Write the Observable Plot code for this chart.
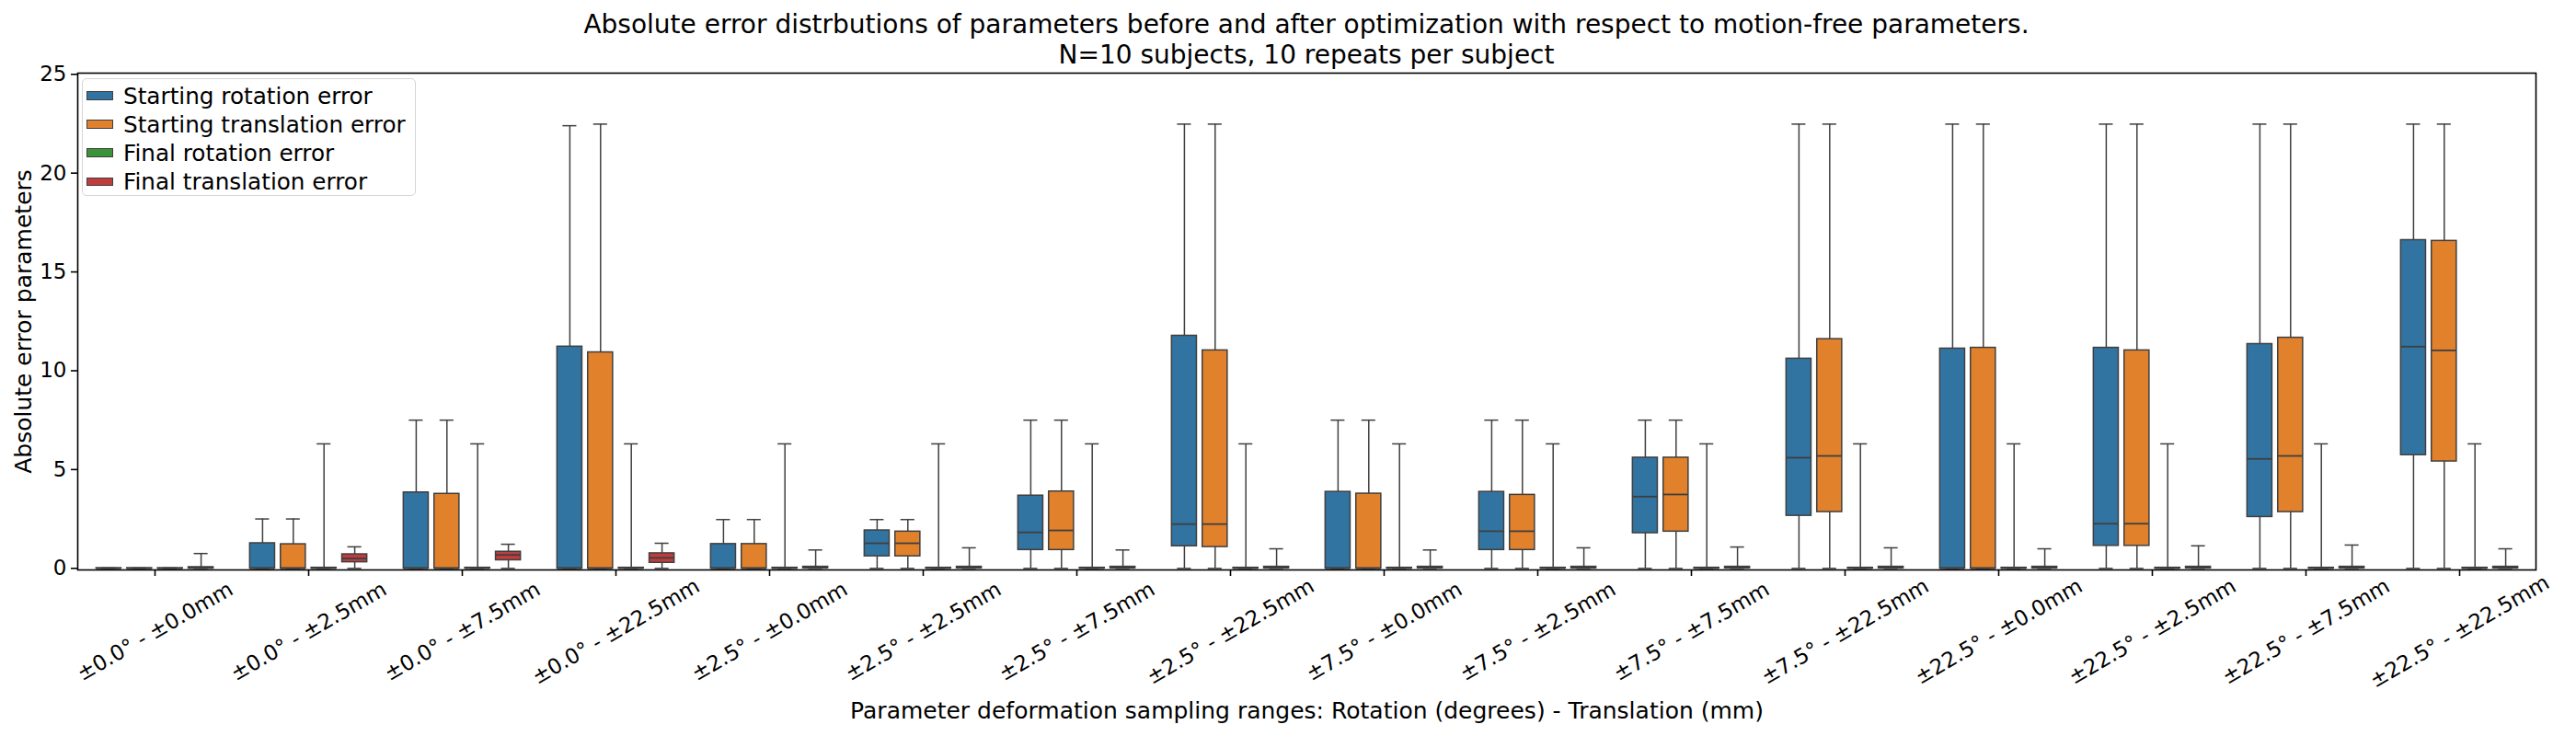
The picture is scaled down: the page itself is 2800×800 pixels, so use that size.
<!DOCTYPE html>
<html>
<head>
<meta charset="utf-8">
<script src="https://cdn.jsdelivr.net/npm/d3@7"></script>
<script src="https://cdn.jsdelivr.net/npm/@observablehq/plot@0.6"></script>
<style>
  html, body { margin: 0; padding: 0; background: #fff; }
  #wrap { position: relative; width: 2800px; height: 800px; font-family: "DejaVu Sans", sans-serif; }
  #title { box-sizing: border-box; width: 2800px; height: 76px; padding: 10px 44px 0 84px; text-align: center;
           font-size: 28px; line-height: 33px; color: #000; }
  #legend { position: absolute; left: 89px; top: 85px; width: 363px; height: 128px; box-sizing: border-box;
            border: 1.5px solid #d6d6d6; border-radius: 5px; background: rgba(255,255,255,0.8); }
  .row { position: absolute; left: 0; height: 30px; display: flex; align-items: center; }
  .sw { width: 29px; height: 9.5px; border: 1.3px solid #3f3f3f; margin-left: 4px; margin-right: 11px; box-sizing: border-box; }
  .lt { font-size: 24.7px; color: #000; white-space: nowrap; }
</style>
</head>
<body>
<div id="wrap">
  <div id="title">Absolute error distrbutions of parameters before and after optimization with respect to motion-free parameters.<br>N=10 subjects, 10 repeats per subject</div>
  <div id="chart"></div>
  <div id="legend"></div>
</div>
<script>
// ---------- data ----------
const groups = [
  "±0.0° - ±0.0mm", "±0.0° - ±2.5mm", "±0.0° - ±7.5mm", "±0.0° - ±22.5mm",
  "±2.5° - ±0.0mm", "±2.5° - ±2.5mm", "±2.5° - ±7.5mm", "±2.5° - ±22.5mm",
  "±7.5° - ±0.0mm", "±7.5° - ±2.5mm", "±7.5° - ±7.5mm", "±7.5° - ±22.5mm",
  "±22.5° - ±0.0mm", "±22.5° - ±2.5mm", "±22.5° - ±7.5mm", "±22.5° - ±22.5mm"
];
const hues = ["Starting rotation error", "Starting translation error", "Final rotation error", "Final translation error"];
const hueColors = ["#3274a1", "#e1812c", "#3a923a", "#c03d3e"];
const yTicks = [0, 5, 10, 15, 20, 25];

// [min, q1, median, q3, max] per group
const startRotation = [
  [0, 0, 0, 0.01, 0.02], [0, 0, 0, 1.27, 2.5], [0, 0, 0, 3.84, 7.5], [0, 0, 0, 11.22, 22.4],
  [0, 0, 0, 1.23, 2.47], [0, 0.61, 1.27, 1.92, 2.47], [0, 0.93, 1.82, 3.68, 7.5], [0, 1.12, 2.24, 11.77, 22.48],
  [0, 0, 0, 3.87, 7.5], [0, 0.93, 1.88, 3.87, 7.5], [0, 1.78, 3.63, 5.6, 7.5], [0, 2.66, 5.6, 10.61, 22.48],
  [0, 0, 0, 11.12, 22.48], [0, 1.14, 2.26, 11.16, 22.48], [0, 2.6, 5.54, 11.35, 22.48], [0, 5.73, 11.22, 16.61, 22.48]
];
const startTranslation = [
  [0, 0, 0, 0.01, 0.02], [0, 0, 0, 1.22, 2.5], [0, 0, 0, 3.77, 7.5], [0, 0, 0, 10.93, 22.48],
  [0, 0, 0, 1.23, 2.47], [0, 0.61, 1.27, 1.86, 2.47], [0, 0.93, 1.92, 3.89, 7.5], [0, 1.08, 2.24, 11.03, 22.48],
  [0, 0, 0, 3.78, 7.5], [0, 0.93, 1.88, 3.72, 7.5], [0, 1.86, 3.74, 5.6, 7.5], [0, 2.85, 5.69, 11.6, 22.48],
  [0, 0, 0, 11.16, 22.48], [0, 1.14, 2.26, 11.03, 22.48], [0, 2.85, 5.69, 11.67, 22.48], [0, 5.41, 11.03, 16.57, 22.48]
];
const finalRotation = [
  [0, 0, 0, 0.01, 0.02], [0, 0, 0.01, 0.03, 6.3], [0, 0, 0.01, 0.03, 6.3], [0, 0, 0.01, 0.03, 6.3],
  [0, 0, 0.01, 0.03, 6.3], [0, 0, 0.01, 0.03, 6.3], [0, 0, 0.01, 0.03, 6.3], [0, 0, 0.01, 0.03, 6.3],
  [0, 0, 0.01, 0.03, 6.3], [0, 0, 0.01, 0.03, 6.3], [0, 0, 0.01, 0.03, 6.3], [0, 0, 0.01, 0.03, 6.3],
  [0, 0, 0.01, 0.03, 6.3], [0, 0, 0.01, 0.03, 6.3], [0, 0, 0.01, 0.03, 6.3], [0, 0, 0.01, 0.03, 6.3]
];
const finalTranslation = [
  [0, 0, 0.02, 0.06, 0.75], [0, 0.31, 0.5, 0.71, 1.09], [0, 0.41, 0.68, 0.84, 1.22], [0, 0.28, 0.53, 0.76, 1.27],
  [0, 0.01, 0.03, 0.08, 0.93], [0, 0.01, 0.03, 0.08, 1.04], [0, 0.01, 0.03, 0.08, 0.93], [0, 0.01, 0.03, 0.08, 0.99],
  [0, 0.01, 0.03, 0.08, 0.93], [0, 0.01, 0.03, 0.08, 1.04], [0, 0.01, 0.03, 0.08, 1.08], [0, 0.01, 0.03, 0.08, 1.04],
  [0, 0.01, 0.03, 0.08, 0.99], [0, 0.01, 0.03, 0.08, 1.14], [0, 0.01, 0.03, 0.08, 1.18], [0, 0.01, 0.03, 0.08, 0.99]
];
const series = [startRotation, startTranslation, finalRotation, finalTranslation];

// ---------- build table ----------
const table = series.map((s, h) => s.map((v, i) => ({
  group: groups[i], hue: hues[h], min: v[0], q1: v[1], med: v[2], q3: v[3], max: v[4]
})));

// ---------- layout ----------
const W = 2800, H = 724;
const marginLeft = 84, marginRight = 44, marginTop = 3, marginBottom = 181;
const step = (W - marginLeft - marginRight) / groups.length;
const bandwidth = step * 0.8;
const hueStep = bandwidth / hues.length;
const boxW = hueStep * 0.8;
const capW = boxW * 0.55;
const boxInset = (bandwidth - boxW) / 2;
const capInset = (bandwidth - capW) / 2;
const lineColor = "#3f3f3f";

const marks = [];
table.forEach((rows, h) => {
  const dx = (h - 1.5) * hueStep;
  marks.push(
    Plot.ruleX(rows, {x: "group", y1: "min", y2: "q1", dx, stroke: lineColor, strokeWidth: 1.5}),
    Plot.ruleX(rows, {x: "group", y1: "q3", y2: "max", dx, stroke: lineColor, strokeWidth: 1.5}),
    Plot.tickY(rows, {x: "group", y: "min", dx, insetLeft: capInset, insetRight: capInset, stroke: lineColor, strokeWidth: 1.5}),
    Plot.tickY(rows, {x: "group", y: "max", dx, insetLeft: capInset, insetRight: capInset, stroke: lineColor, strokeWidth: 1.5}),
    Plot.barY(rows, {x: "group", y1: "q1", y2: "q3", dx, fill: "hue", stroke: lineColor, strokeWidth: 1.5,
                     insetLeft: boxInset, insetRight: boxInset}),
    Plot.tickY(rows, {x: "group", y: "med", dx, insetLeft: boxInset, insetRight: boxInset, stroke: lineColor, strokeWidth: 1.8})
  );
});

const chart = Plot.plot({
  width: W, height: H,
  marginLeft, marginRight, marginTop, marginBottom,
  style: {fontFamily: "DejaVu Sans", fontSize: "23px", background: "white", color: "black", overflow: "visible"},
  x: {domain: groups, paddingInner: 0.2, paddingOuter: 0.1},
  y: {domain: [-0.08, 25.06]},
  color: {domain: hues, range: hueColors},
  marks: [
    ...marks,
    Plot.frame({stroke: "black", strokeWidth: 1.6}),
    Plot.axisY({ticks: yTicks, tickSize: 7, tickPadding: 5, fontSize: 23, label: null, strokeWidth: 1.6}),
    Plot.axisX({tickSize: 7, tickFormat: () => "", label: null, strokeWidth: 1.6}),
    Plot.text(groups, {x: d => d, text: d => d, frameAnchor: "bottom", dy: 67, rotate: -30,
                       textAnchor: "middle", lineAnchor: "middle", fontSize: 23, fill: "black"}),
    Plot.text(["Absolute error parameters"], {text: d => d, frameAnchor: "left", dx: -59, rotate: -90,
                       textAnchor: "middle", lineAnchor: "middle", fontSize: 25, fill: "black"}),
    Plot.text(["Parameter deformation sampling ranges: Rotation (degrees) - Translation (mm)"],
              {text: d => d, frameAnchor: "bottom", dy: 153, textAnchor: "middle", lineAnchor: "middle", fontSize: 25, fill: "black"})
  ]
});
document.getElementById("chart").appendChild(chart);

// ---------- legend ----------
const legend = document.getElementById("legend");
hues.forEach((name, i) => {
  const row = document.createElement("div");
  row.className = "row";
  row.style.top = (3 + i * 31.1) + "px";
  const sw = document.createElement("div");
  sw.className = "sw";
  sw.style.background = hueColors[i];
  const t = document.createElement("span");
  t.className = "lt";
  t.textContent = name;
  row.appendChild(sw); row.appendChild(t);
  legend.appendChild(row);
});
</script>
</body>
</html>
